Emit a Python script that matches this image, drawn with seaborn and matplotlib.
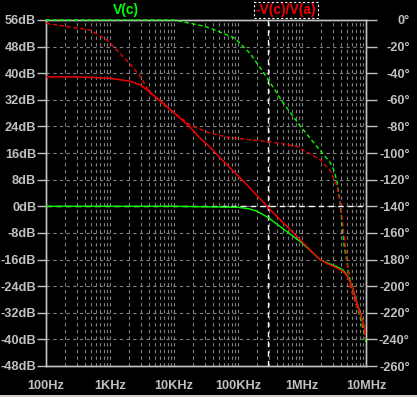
import numpy as np
import pandas as pd
import seaborn as sns
import matplotlib.pyplot as plt
from matplotlib.ticker import FixedLocator, NullFormatter
from matplotlib.patches import Rectangle

# frequencies (Hz) and values
loop_mag_f = [100, 316, 1000, 2054, 2945, 4217, 8660, 17780, 25480, 36520, 52330,
              100000, 153990, 291900, 316200, 1.0e6, 1.334e6, 1.917e6, 2.47e6,
              3.54e6, 4.41e6, 5.09e6, 5.62e6, 6.04e6, 7.22e6, 8.06e6, 8.97e6, 1.0e7]
loop_mag_db = [38.9, 38.9, 38.5, 37.6, 36.5, 34.3, 29.2, 23.8, 20.5, 17.8, 14.6,
               9.2, 5.5, -0.2, -1.0, -10.6, -13.1, -16.0, -17.2,
               -18.6, -19.6, -21.0, -22.5, -24.0, -29.0, -32.0, -35.0, -38.0]

vc_mag_f = [100, 10000, 100000, 153990, 197400, 291900, 486900, 1.0e6, 1.334e6,
            1.917e6, 2.47e6, 3.54e6, 4.41e6, 5.09e6, 5.62e6, 6.04e6, 7.22e6,
            8.06e6, 8.97e6, 1.0e7]
vc_mag_db = [0.0, 0.0, -0.3, -0.8, -1.5, -3.3, -6.5, -11.0, -13.2,
             -16.0, -17.0, -18.2, -19.2, -20.8, -22.5, -24.0, -29.0,
             -32.0, -35.0, -38.0]

loop_ph_f = [100, 486, 897, 2054, 2945, 4217, 8660, 17780, 36520, 67140, 153990,
             316200, 834000, 1.917e6, 2.74e6, 3.54e6, 3.96e6, 4.26e6, 4.57e6,
             4.91e6, 5.27e6, 5.62e6, 7.22e6, 8.66e6, 9.30e6, 1.0e7]
loop_ph_deg = [-2.5, -7.5, -15, -33, -42, -55, -67, -79, -85, -88, -90,
               -91.5, -95, -105, -113, -125, -137, -150, -163,
               -175, -188, -200, -216, -225, -233, -240]

vc_ph_f = [100, 10000, 25480, 36520, 83250, 100000, 153990, 281200, 486900,
           914000, 1.917e6, 2.74e6, 3.16e6, 3.54e6, 3.96e6, 4.26e6, 4.57e6,
           5.09e6, 5.62e6, 6.71e6, 8.06e6, 9.64e6, 1.0e7]
vc_ph_deg = [0, 0, -4, -6, -13, -16, -25, -43, -61,
             -79, -98, -107, -113, -122, -138, -155, -170,
             -183, -195, -210, -223, -238, -243]

cursor_f = 291900
x_ticks = [1e2, 1e3, 1e4, 1e5, 1e6, 1e7]
x_labels = ["100Hz", "1KHz", "10KHz", "100KHz", "1MHz", "10MHz"]
db_ticks = list(range(-48, 57, 8))
deg_ticks = list(range(-260, 1, 20))

GREEN = "#00ff00"
RED = "#f00000"
GREY = "#c0c0c0"
GRID = "#808080"

sns.set_style("dark", {"axes.facecolor": "black", "figure.facecolor": "black"})
plt.rcParams["font.family"] = ["Liberation Sans", "DejaVu Sans"]
plt.rcParams["font.weight"] = "bold"

fig = plt.figure(figsize=(4.17, 3.97), dpi=100, facecolor="black")
ax = fig.add_axes([46 / 417, 31 / 397, 320 / 417, 346 / 397])
ax.set_facecolor("black")
ax2 = ax.twinx()

ax.set_xscale("log")
ax.set_xlim(1e2, 1e7)
ax.set_ylim(-48, 56)
ax2.set_ylim(-260, 0)

# grid
dash = (0, (3, 3))
minors = [m * 10.0 ** e for e in range(2, 7) for m in range(2, 10)]
ax.xaxis.set_major_locator(FixedLocator(x_ticks))
ax.xaxis.set_minor_locator(FixedLocator(minors))
ax.xaxis.set_minor_formatter(NullFormatter())
ax.set_xticklabels(x_labels)
ax.grid(True, which="both", axis="x", color=GRID, ls=dash, lw=0.8)
ax.grid(True, which="major", axis="y", color=GRID, ls=dash, lw=0.8)
ax.set_yticks(db_ticks)
ax.set_yticklabels([f"{v}dB" for v in db_ticks])
ax2.set_yticks(deg_ticks)
ax2.set_yticklabels([f"{v}°" for v in deg_ticks])
ax2.grid(False)

# curves
sns.lineplot(x=vc_ph_f, y=vc_ph_deg, ax=ax2, color=GREEN, lw=1.0,
             linestyle=(0, (3, 2)), zorder=4, clip_on=False)
sns.lineplot(x=loop_ph_f, y=loop_ph_deg, ax=ax2, color=RED, lw=1.0,
             linestyle=(0, (3, 2)), zorder=4)
sns.lineplot(x=vc_mag_f, y=vc_mag_db, ax=ax2, color=GREEN, lw=1.0,
             transform=ax.transData, zorder=4)
sns.lineplot(x=loop_mag_f, y=loop_mag_db, ax=ax2, color=RED, lw=1.1,
             transform=ax.transData, zorder=4)

# cursor
ax.axvline(cursor_f, color="white", ls=(0, (4, 3)), lw=1.0)
ax.axhline(0, color="white", ls=(0, (4, 3)), lw=1.0)

# ticks and spines
for a in (ax, ax2):
    for s in a.spines.values():
        s.set_color(GREY)
        s.set_linewidth(1.0)
ax.tick_params(axis="x", which="major", direction="inout", length=8, width=1,
               colors=GREY, labelsize=9.2, pad=6)
ax.tick_params(axis="x", which="minor", direction="inout", length=5, width=1, colors=GREY)
ax.tick_params(axis="y", which="major", direction="out", length=6.5, width=1,
               colors=GREY, labelsize=9.2, pad=0.5, left=True)
ax2.tick_params(axis="y", which="major", direction="out", length=8, width=1,
                colors=GREY, labelsize=9.2, pad=23.5, right=True)
for lab in ax2.get_yticklabels():
    lab.set_horizontalalignment("right")
for lab in ax.get_xticklabels() + ax.get_yticklabels() + ax2.get_yticklabels():
    lab.set_fontweight("bold")
ax.set_xlabel("")
ax.set_ylabel("")
ax2.set_ylabel("")

# trace labels
fig.text(126 / 417, 1 - 10 / 397, "V(c)", color=GREEN, fontsize=10, fontweight="bold",
         ha="center", va="center")
fig.text(286 / 417, 1 - 10 / 397, "-V(c)/V(a)", color=RED, fontsize=10, fontweight="bold",
         ha="center", va="center",
         bbox=dict(facecolor="black", edgecolor="white", linestyle=(0, (2, 2)),
                   lw=0.8, boxstyle="square,pad=0.1"))

fig.patches.append(Rectangle((0, 0), 1, 2 / 397, transform=fig.transFigure,
                             facecolor="#d4d0c8", edgecolor="none"))

fig.savefig("out.png", dpi=100, facecolor="black")
